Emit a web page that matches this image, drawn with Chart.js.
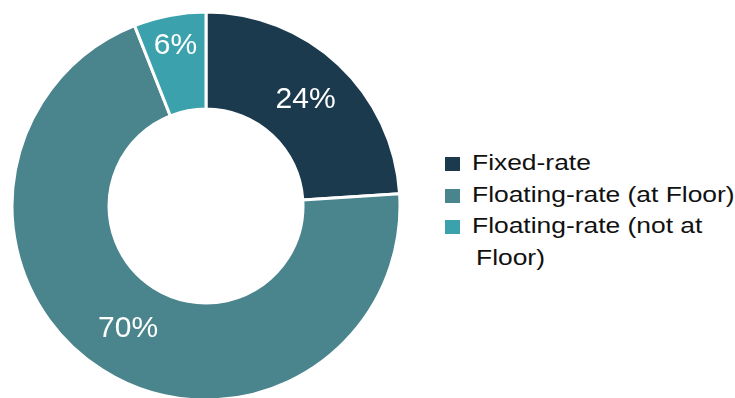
<!DOCTYPE html>
<html>
<head>
<meta charset="utf-8">
<script src="https://cdn.jsdelivr.net/npm/chart.js@4"></script>
<style>
  html, body { margin: 0; padding: 0; background: #fff; }
  #wrap { position: relative; width: 735px; height: 398px; overflow: hidden; }
  #chartBox { position: absolute; left: 0; top: 0; width: 412px; height: 402px; }
  #legend { position: absolute; left: 445px; top: 0; font-family: "Liberation Sans", Arial, sans-serif; font-size: 22px; color: #111; }
  .item { position: absolute; left: 0; white-space: nowrap; }
  .item .box { position: absolute; left: 0; width: 15px; height: 14px; }
  .item .txt { position: absolute; left: 27px; transform-origin: 0 0; transform: scaleX(1.2); line-height: 22px; white-space: pre; }
</style>
</head>
<body>
<div id="wrap">
  <div id="chartBox"><canvas id="mixChart"></canvas></div>
  <div id="legend"></div>
</div>
<script>
'use strict';

const LABELS = ['Fixed-rate', 'Floating-rate (at Floor)', 'Floating-rate (not at Floor)'];
const LEGEND_LINES = [['Fixed-rate'], ['Floating-rate (at Floor)'], ['Floating-rate (not at', 'Floor)']];
const VALUES = [24, 70, 6];
const COLORS = ['#1b3a4e', '#4a848c', '#3ba1ac'];

// labels inside the slices
const sliceLabels = {
  id: 'sliceLabels',
  afterDatasetsDraw(chart) {
    const { ctx } = chart;
    const meta = chart.getDatasetMeta(0);
    ctx.save();
    ctx.fillStyle = '#fff';
    ctx.font = '30px "Liberation Sans", Arial, sans-serif';
    ctx.textAlign = 'center';
    ctx.textBaseline = 'middle';
    meta.data.forEach((arc, i) => {
      const p = arc.getProps(['x', 'y', 'startAngle', 'endAngle', 'innerRadius', 'outerRadius'], true);
      const mid = (p.startAngle + p.endAngle) / 2;
      const frac = VALUES[i] < 10 ? 0.68 : 0.5;
      const r = p.innerRadius + (p.outerRadius - p.innerRadius) * frac;
      ctx.fillText(VALUES[i] + '%', p.x + Math.cos(mid) * r, p.y + Math.sin(mid) * r);
    });
    ctx.restore();
  },
};

new Chart(document.getElementById('mixChart').getContext('2d'), {
  type: 'doughnut',
  data: {
    labels: LABELS,
    datasets: [{
      data: VALUES,
      backgroundColor: COLORS,
      borderColor: '#fff',
      borderWidth: 3,
    }],
  },
  options: {
    responsive: true,
    maintainAspectRatio: false,
    animation: false,
    cutout: '50%',
    layout: { padding: { left: 10.5, right: 10.5, top: 10.5, bottom: 0.5 } },
    plugins: { legend: { display: false }, tooltip: { enabled: false } },
  },
  plugins: [sliceLabels],
});

// html legend (the last label wraps, second line slightly indented)
const legendEl = document.getElementById('legend');
let line = 0;
LEGEND_LINES.forEach((lines, i) => {
  const item = document.createElement('div');
  item.className = 'item';
  item.style.top = (157 + line * 31.5) + 'px';
  const box = document.createElement('span');
  box.className = 'box';
  box.style.background = COLORS[i];
  box.style.top = '0px';
  item.appendChild(box);
  lines.forEach((t, j) => {
    const s = document.createElement('span');
    s.className = 'txt';
    s.textContent = t;
    s.style.top = (-5 + j * 31.5) + 'px';
    if (j > 0) s.style.left = '31px';
    item.appendChild(s);
  });
  line += lines.length;
  legendEl.appendChild(item);
});
</script>
</body>
</html>
